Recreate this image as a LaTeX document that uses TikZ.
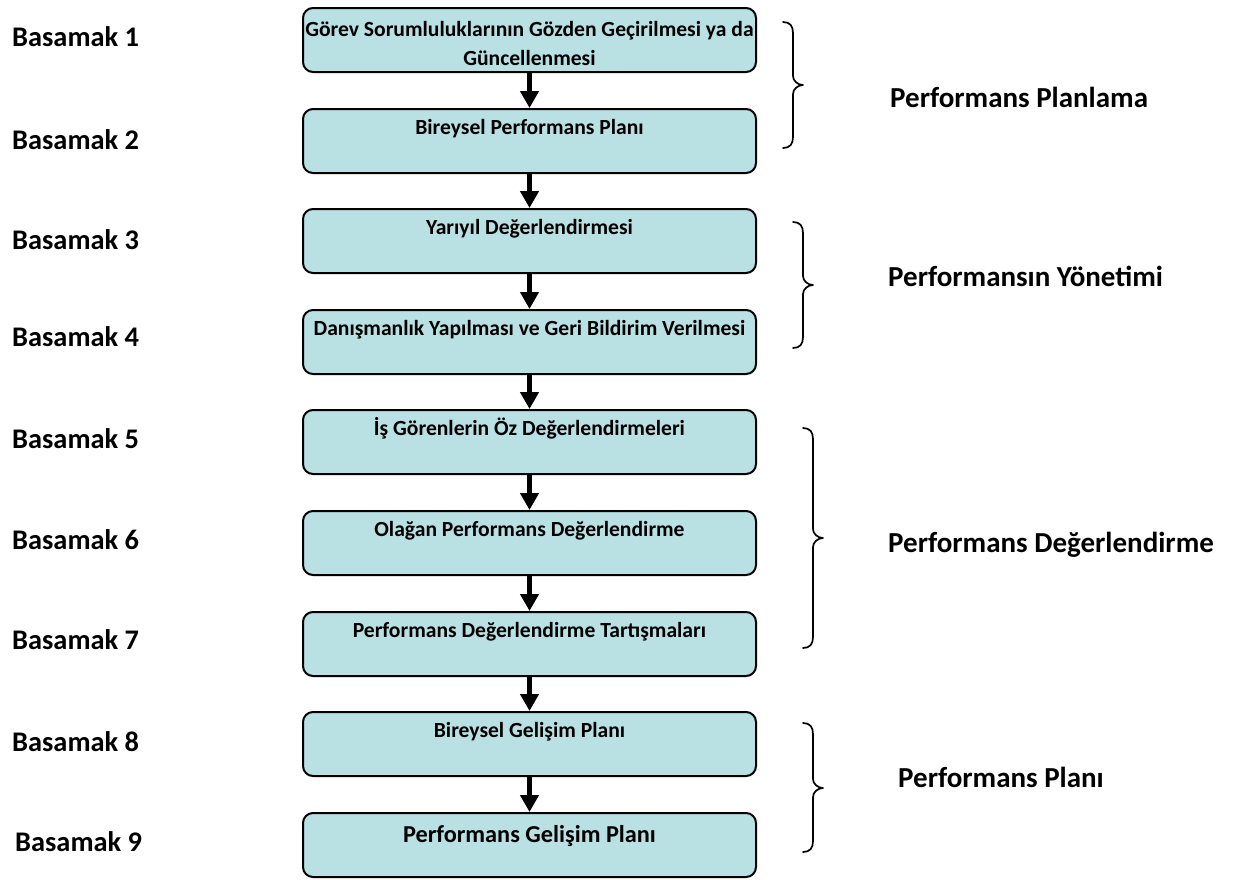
\documentclass[tikz,border=0pt]{standalone}
\usepackage{fontspec}
\setmainfont{Carlito}
\usetikzlibrary{arrows.meta}
\definecolor{boxfill}{HTML}{B9E0E3}
\newcommand{\drawbrace}[4]{%
  \draw[bracepath] (#1,#2) .. controls ({#1+7},#2) and ({#1+10},{#2+4}) .. ({#1+10},{#2+11})
    -- ({#1+10},{#3-9}) .. controls ({#1+10},{#3-4}) and ({#1+15},#3) .. ({#1+20},#3)
    .. controls ({#1+15},#3) and ({#1+10},{#3+4}) .. ({#1+10},{#3+9})
    -- ({#1+10},{#4-11}) .. controls ({#1+10},{#4-4}) and ({#1+7},#4) .. (#1,#4);}
\begin{document}
\begin{tikzpicture}[x=1pt,y=-1pt,
  stepbox/.style={draw=black, line width=2pt, fill=boxfill, rounded corners=10pt,
    text width=453pt, align=flush center, inner sep=0pt, anchor=north,
    text height=25pt, text depth=39pt, font=\fontsize{21.6}{29}\selectfont\bfseries},
  bigbox/.style={stepbox, text height=29pt, text depth=35pt, font=\fontsize{24.3}{29}\selectfont\bfseries},
  twobox/.style={stepbox, text height=28pt, text depth=36pt},
  steplabel/.style={anchor=base west, inner sep=0pt, font=\fontsize{28.4}{34}\selectfont\bfseries},
  grouplabel/.style={anchor=base west, inner sep=0pt, font=\fontsize{29}{35}\selectfont\bfseries},
  flowarr/.style={line width=4.5pt, -{Triangle[length=17pt,width=18pt]}},
  bracepath/.style={line width=1.7pt, line cap=round, line join=round}]
\useasboundingbox (0,0) rectangle (1237,879);

\node[twobox] (b1) at (529.5,7) {Görev Sorumluluklarının Gözden Geçirilmesi ya da\\Güncellenmesi};
\node[stepbox] (b2) at (529.5,108) {Bireysel Performans Planı};
\node[stepbox] (b3) at (529.5,208) {Yarıyıl Değerlendirmesi};
\node[stepbox] (b4) at (529.5,309) {Danışmanlık Yapılması ve Geri Bildirim Verilmesi};
\node[stepbox] (b5) at (529.5,409) {İş Görenlerin Öz Değerlendirmeleri};
\node[stepbox] (b6) at (529.5,510) {Olağan Performans Değerlendirme};
\node[stepbox] (b7) at (529.5,611) {Performans Değerlendirme Tartışmaları};
\node[stepbox] (b8) at (529.5,711) {Bireysel Gelişim Planı};
\node[bigbox] (b9) at (529.5,812) {Performans Gelişim Planı};

\foreach \a/\b in {b1/b2,b2/b3,b3/b4,b4/b5,b5/b6,b6/b7,b7/b8,b8/b9}
  \draw[flowarr] (\a.south) -- (\b.north);

\node[steplabel] (l1) at (12,46) {Basamak 1};
\node[steplabel] (l2) at (12,149) {Basamak 2};
\node[steplabel] (l3) at (12,249) {Basamak 3};
\node[steplabel] (l4) at (12,346) {Basamak 4};
\node[steplabel] (l5) at (12,448) {Basamak 5};
\node[steplabel] (l6) at (12,549) {Basamak 6};
\node[steplabel] (l7) at (12,649) {Basamak 7};
\node[steplabel] (l8) at (12,751) {Basamak 8};
\node[steplabel] (l9) at (15,851) {Basamak 9};

\drawbrace{783}{22}{85}{148}
\drawbrace{793}{222}{285}{348}
\drawbrace{803}{428}{538}{648}
\drawbrace{803}{723}{788}{852}

\node[grouplabel] (g1) at (890,107) {Performans Planlama};
\node[grouplabel] (g2) at (888,286) {Performansın Yönetimi};
\node[grouplabel] (g3) at (888,552) {Performans Değerlendirme};
\node[grouplabel] (g4) at (898,787) {Performans Planı};
\end{tikzpicture}
\end{document}
